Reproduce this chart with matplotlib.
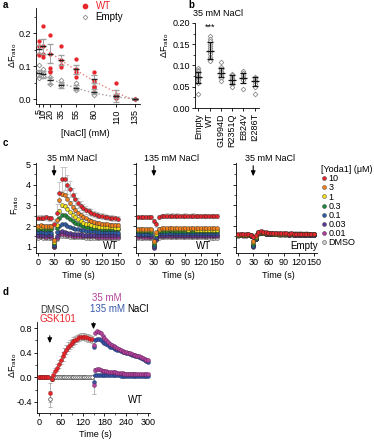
import matplotlib
matplotlib.use('Agg')
import matplotlib.pyplot as plt
from matplotlib.lines import Line2D
from matplotlib.ticker import MultipleLocator, FormatStrFormatter
import numpy as np

FS = 6.5
plt.rcParams['font.family'] = ['Liberation Sans', 'DejaVu Sans']
plt.rcParams['mathtext.fontset'] = 'custom'
plt.rcParams['mathtext.rm'] = 'Liberation Sans'
plt.rcParams['mathtext.it'] = 'Liberation Sans:italic'
plt.rcParams['font.size'] = FS
plt.rcParams['axes.linewidth'] = 0.6
for a in ('xtick', 'ytick'):
    plt.rcParams[a + '.major.width'] = 0.6
    plt.rcParams[a + '.minor.width'] = 0.5
    plt.rcParams[a + '.major.size'] = 2.5
    plt.rcParams[a + '.minor.size'] = 1.5
    plt.rcParams[a + '.major.pad'] = 1.2
    plt.rcParams[a + '.labelsize'] = FS

W, H = 374, 440

# ---------------- Panel a data ----------------
nacl_conc = [5, 10, 20, 35, 55, 80, 110, 135]
wt_points = [[0.177, 0.160, 0.138, 0.133], [0.222, 0.160, 0.138, 0.126],
             [0.193, 0.138, 0.095, 0.082], [0.162, 0.118, 0.103, 0.096],
             [0.121, 0.090, 0.081, 0.068], [0.083, 0.055, 0.037, 0.032],
             [0.050, 0.012, 0.008, 0.004], [0.0]]
empty_points = [[0.103, 0.083, 0.068, 0.063], [0.090, 0.078, 0.070],
                [0.085, 0.068, 0.045], [0.058, 0.045, 0.040],
                [0.048, 0.035, 0.027], [0.040, 0.022, 0.012],
                [0.012, 0.006, 0.002], [0.0]]
wt_mean = [0.153, 0.160, 0.138, 0.118, 0.090, 0.060, 0.010, 0.0]
wt_sem = [0.012, 0.022, 0.030, 0.015, 0.013, 0.012, 0.018, 0.0]
empty_mean = [0.078, 0.075, 0.057, 0.043, 0.035, 0.022, 0.008, 0.0]
empty_sem = [0.010, 0.010, 0.010, 0.008, 0.008, 0.008, 0.006, 0.0]

# ---------------- Panel b data ----------------
mutants = ['Empty', 'WT', 'G1994D', 'R2351Q', 'E824V', 'I2286T']
mut_points = [
    [0.095, 0.090, 0.086, 0.082, 0.079, 0.076, 0.073, 0.071, 0.069, 0.066, 0.062, 0.058, 0.032],
    [0.170, 0.162, 0.157, 0.151, 0.146, 0.141, 0.136, 0.131, 0.126, 0.121, 0.116, 0.112, 0.110],
    [0.109, 0.096, 0.091, 0.088, 0.085, 0.081, 0.078, 0.075, 0.070, 0.064],
    [0.081, 0.077, 0.073, 0.070, 0.068, 0.065, 0.061, 0.056, 0.050],
    [0.087, 0.082, 0.077, 0.072, 0.070, 0.068, 0.065, 0.045],
    [0.073, 0.070, 0.066, 0.063, 0.060, 0.056, 0.050, 0.034],
]
mut_mean = [0.072, 0.135, 0.083, 0.067, 0.070, 0.063]
mut_sd = [0.013, 0.020, 0.011, 0.010, 0.012, 0.011]

# ---------------- Panel c data ----------------
time_c = list(range(0, 151, 5))
yoda_labels = ['10', '3', '1', '0.3', '0.1', '0.03', '0.01', 'DMSO']
yoda_colors = ['#e8262c', '#f58220', '#f4e21c', '#1f8a3c', '#2e5ea8', '#5b3c9a', '#b43c9c', '#cfcfcf']

c1_series = [
    [2.40, 2.41, 2.40, 2.42, 2.39, 2.38, 2.10, 2.65, 3.60, 4.28, 4.30, 4.00, 3.78, 3.52, 3.30, 3.13, 2.98, 2.87, 2.78, 2.71, 2.65, 2.60, 2.55, 2.51, 2.48, 2.45, 2.43, 2.41, 2.39, 2.37, 2.36],
    [2.02, 2.03, 2.02, 2.01, 2.02, 2.00, 1.35, 2.30, 3.25, 3.55, 3.52, 3.32, 3.12, 2.93, 2.78, 2.64, 2.53, 2.44, 2.37, 2.31, 2.26, 2.21, 2.17, 2.14, 2.11, 2.09, 2.08, 2.07, 2.06, 2.05, 2.05],
    [1.95, 1.96, 1.95, 1.94, 1.95, 1.94, 1.25, 2.05, 2.75, 3.00, 2.98, 2.84, 2.68, 2.54, 2.42, 2.32, 2.24, 2.17, 2.12, 2.08, 2.05, 2.02, 2.00, 1.98, 1.97, 1.96, 1.95, 1.94, 1.94, 1.93, 1.93],
    [1.88, 1.89, 1.88, 1.87, 1.88, 1.87, 1.18, 1.92, 2.40, 2.55, 2.53, 2.44, 2.34, 2.25, 2.17, 2.10, 2.05, 2.01, 1.98, 1.95, 1.93, 1.91, 1.90, 1.89, 1.88, 1.87, 1.87, 1.86, 1.86, 1.85, 1.85],
    [1.70, 1.71, 1.70, 1.69, 1.70, 1.69, 1.10, 1.70, 2.00, 2.10, 2.08, 2.02, 1.97, 1.92, 1.88, 1.84, 1.81, 1.79, 1.77, 1.76, 1.75, 1.74, 1.73, 1.72, 1.72, 1.71, 1.71, 1.70, 1.70, 1.70, 1.69],
    [1.56, 1.57, 1.56, 1.55, 1.56, 1.55, 1.05, 1.50, 1.70, 1.74, 1.72, 1.69, 1.66, 1.64, 1.62, 1.61, 1.60, 1.59, 1.58, 1.58, 1.57, 1.57, 1.57, 1.56, 1.56, 1.56, 1.56, 1.55, 1.55, 1.55, 1.55],
    [1.50, 1.51, 1.50, 1.49, 1.50, 1.49, 1.00, 1.44, 1.60, 1.63, 1.61, 1.58, 1.56, 1.54, 1.53, 1.52, 1.51, 1.51, 1.50, 1.50, 1.50, 1.50, 1.49, 1.49, 1.49, 1.49, 1.49, 1.48, 1.48, 1.48, 1.48],
    [1.44, 1.45, 1.44, 1.43, 1.44, 1.43, 0.98, 1.38, 1.52, 1.54, 1.52, 1.50, 1.48, 1.47, 1.46, 1.45, 1.45, 1.45, 1.44, 1.44, 1.44, 1.44, 1.44, 1.43, 1.43, 1.43, 1.43, 1.43, 1.43, 1.42, 1.42],
]
c1_sem_10 = [0.12, 0.12, 0.12, 0.12, 0.12, 0.12, 0.25, 0.40, 0.55, 0.60, 0.55, 0.45, 0.38, 0.32, 0.28, 0.25, 0.22, 0.20, 0.18, 0.17, 0.16, 0.15, 0.15, 0.14, 0.14, 0.13, 0.13, 0.13, 0.13, 0.13, 0.13]
c_sem_other = [0.08, 0.07, 0.06, 0.05, 0.04, 0.04, 0.04]

c2_series = [
    [2.44, 2.45, 2.44, 2.45, 2.44, 2.43, 2.25, 2.08, 2.42, 2.50, 2.50, 2.51, 2.50, 2.51, 2.50, 2.51, 2.50, 2.50, 2.51, 2.50, 2.50, 2.51, 2.50, 2.50, 2.49, 2.50, 2.50, 2.49, 2.50, 2.49, 2.50],
    [1.86, 1.86, 1.85, 1.86, 1.85, 1.85, 1.30, 1.70, 1.88, 1.90, 1.90, 1.90, 1.91, 1.90, 1.90, 1.90, 1.90, 1.90, 1.90, 1.89, 1.90, 1.90, 1.89, 1.90, 1.89, 1.89, 1.90, 1.89, 1.89, 1.89, 1.89],
    [1.80, 1.81, 1.80, 1.80, 1.80, 1.79, 1.22, 1.64, 1.82, 1.84, 1.84, 1.84, 1.85, 1.84, 1.84, 1.84, 1.84, 1.84, 1.84, 1.83, 1.84, 1.84, 1.83, 1.83, 1.83, 1.83, 1.83, 1.83, 1.83, 1.83, 1.82],
    [1.74, 1.75, 1.74, 1.74, 1.74, 1.73, 1.15, 1.58, 1.76, 1.78, 1.78, 1.78, 1.79, 1.78, 1.78, 1.78, 1.78, 1.78, 1.77, 1.77, 1.78, 1.77, 1.77, 1.77, 1.77, 1.77, 1.77, 1.76, 1.76, 1.76, 1.76],
    [1.64, 1.65, 1.64, 1.64, 1.64, 1.63, 1.05, 1.48, 1.66, 1.68, 1.68, 1.68, 1.69, 1.68, 1.68, 1.68, 1.68, 1.68, 1.67, 1.67, 1.68, 1.67, 1.67, 1.67, 1.67, 1.67, 1.67, 1.66, 1.66, 1.66, 1.66],
    [1.55, 1.56, 1.55, 1.55, 1.55, 1.54, 0.95, 1.40, 1.57, 1.59, 1.59, 1.59, 1.60, 1.59, 1.59, 1.59, 1.59, 1.59, 1.58, 1.58, 1.59, 1.58, 1.58, 1.58, 1.58, 1.58, 1.58, 1.57, 1.57, 1.57, 1.57],
    [1.49, 1.50, 1.49, 1.49, 1.49, 1.48, 1.00, 1.36, 1.51, 1.53, 1.53, 1.53, 1.54, 1.53, 1.53, 1.53, 1.53, 1.53, 1.52, 1.52, 1.53, 1.52, 1.52, 1.52, 1.52, 1.52, 1.52, 1.51, 1.51, 1.51, 1.51],
    [1.42, 1.43, 1.42, 1.42, 1.42, 1.41, 1.08, 1.32, 1.44, 1.46, 1.46, 1.46, 1.47, 1.46, 1.46, 1.46, 1.46, 1.46, 1.45, 1.45, 1.46, 1.45, 1.45, 1.45, 1.45, 1.45, 1.45, 1.44, 1.44, 1.44, 1.44],
]

c3_series = [
    [1.60, 1.61, 1.60, 1.60, 1.61, 1.58, 1.45, 1.55, 1.72, 1.74, 1.72, 1.70, 1.68, 1.67, 1.66, 1.66, 1.65, 1.65, 1.65, 1.65, 1.64, 1.65, 1.64, 1.64, 1.64, 1.64, 1.63, 1.64, 1.63, 1.63, 1.63],
    [1.59, 1.60, 1.59, 1.59, 1.60, 1.57, 1.30, 1.50, 1.70, 1.72, 1.70, 1.68, 1.67, 1.66, 1.65, 1.65, 1.64, 1.64, 1.64, 1.64, 1.63, 1.64, 1.63, 1.63, 1.63, 1.63, 1.62, 1.63, 1.62, 1.62, 1.62],
    [1.58, 1.59, 1.58, 1.58, 1.59, 1.56, 1.24, 1.47, 1.68, 1.70, 1.69, 1.67, 1.66, 1.65, 1.64, 1.64, 1.63, 1.63, 1.63, 1.63, 1.62, 1.63, 1.62, 1.62, 1.62, 1.62, 1.61, 1.62, 1.61, 1.61, 1.61],
    [1.57, 1.58, 1.57, 1.57, 1.58, 1.55, 1.15, 1.44, 1.67, 1.69, 1.68, 1.66, 1.65, 1.64, 1.63, 1.63, 1.62, 1.62, 1.62, 1.62, 1.61, 1.62, 1.61, 1.61, 1.61, 1.61, 1.60, 1.61, 1.60, 1.60, 1.60],
    [1.56, 1.57, 1.56, 1.56, 1.57, 1.54, 1.05, 1.40, 1.66, 1.68, 1.67, 1.65, 1.64, 1.63, 1.62, 1.62, 1.61, 1.61, 1.61, 1.61, 1.60, 1.61, 1.60, 1.60, 1.60, 1.60, 1.59, 1.60, 1.59, 1.59, 1.59],
    [1.55, 1.56, 1.55, 1.55, 1.56, 1.53, 0.98, 1.37, 1.65, 1.67, 1.66, 1.64, 1.63, 1.62, 1.61, 1.61, 1.60, 1.60, 1.60, 1.60, 1.59, 1.60, 1.59, 1.59, 1.59, 1.59, 1.58, 1.59, 1.58, 1.58, 1.58],
    [1.55, 1.56, 1.55, 1.55, 1.56, 1.53, 1.02, 1.38, 1.65, 1.67, 1.66, 1.64, 1.63, 1.62, 1.61, 1.61, 1.60, 1.60, 1.60, 1.60, 1.59, 1.60, 1.59, 1.59, 1.59, 1.59, 1.58, 1.59, 1.58, 1.58, 1.58],
    [1.54, 1.55, 1.54, 1.54, 1.55, 1.52, 1.10, 1.40, 1.64, 1.66, 1.65, 1.63, 1.62, 1.61, 1.60, 1.60, 1.59, 1.59, 1.59, 1.59, 1.58, 1.59, 1.58, 1.58, 1.58, 1.58, 1.57, 1.58, 1.57, 1.57, 1.57],
]

# ---------------- Panel d data ----------------
time_d_pre = list(range(0, 150, 5))
time_d_post = list(range(150, 301, 5))
gsk_pre = [0.00, 0.01, 0.00, 0.01, 0.00, 0.00, -0.25, -0.02, 0.04, 0.10, 0.16, 0.22, 0.28, 0.34, 0.40, 0.45, 0.50, 0.53, 0.56, 0.59, 0.61, 0.63, 0.65, 0.66, 0.66, 0.66, 0.65, 0.64, 0.63, 0.62]
gsk_pre_sem = [0.02, 0.02, 0.02, 0.02, 0.02, 0.02, 0.15, 0.04, 0.05, 0.06, 0.06, 0.06, 0.07, 0.07, 0.07, 0.07, 0.07, 0.07, 0.07, 0.07, 0.06, 0.06, 0.06, 0.06, 0.06, 0.06, 0.06, 0.06, 0.06, 0.06]
gsk_35 = [0.52, 0.72, 0.75, 0.74, 0.72, 0.68, 0.64, 0.61, 0.58, 0.55, 0.53, 0.51, 0.49, 0.47, 0.46, 0.44, 0.43, 0.42, 0.41, 0.40, 0.39, 0.38, 0.37, 0.36, 0.35, 0.34, 0.33, 0.31, 0.30, 0.29, 0.28]
gsk_135 = [0.50, 0.60, 0.62, 0.62, 0.60, 0.58, 0.56, 0.54, 0.52, 0.50, 0.49, 0.47, 0.46, 0.45, 0.44, 0.43, 0.42, 0.41, 0.40, 0.39, 0.38, 0.37, 0.36, 0.35, 0.34, 0.33, 0.31, 0.30, 0.28, 0.27, 0.25]
dmso_pre = [0.00, 0.00, 0.01, 0.00, 0.00, 0.00, -0.35, -0.03, 0.00, 0.01, 0.00, 0.01, 0.00, 0.01, 0.00, 0.00, 0.01, 0.00, 0.00, 0.01, 0.00, 0.00, 0.01, 0.00, 0.00, 0.01, 0.00, 0.00, 0.00, 0.00]
dmso_pre_sem = [0.02, 0.02, 0.02, 0.02, 0.02, 0.02, 0.13, 0.03, 0.02, 0.02, 0.02, 0.02, 0.02, 0.02, 0.02, 0.02, 0.02, 0.02, 0.02, 0.02, 0.02, 0.02, 0.02, 0.02, 0.02, 0.02, 0.02, 0.02, 0.02, 0.02]
dmso_35 = [-0.12, 0.12, 0.14, 0.13, 0.12, 0.11, 0.10, 0.10, 0.09, 0.09, 0.08, 0.08, 0.08, 0.07, 0.07, 0.07, 0.07, 0.06, 0.06, 0.06, 0.06, 0.06, 0.06, 0.05, 0.05, 0.05, 0.05, 0.05, 0.05, 0.05, 0.05]
dmso_135 = [-0.08, 0.03, 0.04, 0.04, 0.04, 0.03, 0.03, 0.03, 0.03, 0.03, 0.03, 0.03, 0.03, 0.03, 0.03, 0.02, 0.02, 0.02, 0.02, 0.02, 0.02, 0.02, 0.02, 0.02, 0.02, 0.02, 0.02, 0.02, 0.02, 0.02, 0.02]
dmso_post_sem = [0.15, 0.03, 0.02, 0.02, 0.02, 0.02, 0.02, 0.02, 0.02, 0.02, 0.02, 0.02, 0.02, 0.02, 0.02, 0.02, 0.02, 0.02, 0.02, 0.02, 0.02, 0.02, 0.02, 0.02, 0.02, 0.02, 0.02, 0.02, 0.02, 0.02, 0.02]

RED = '#e8262c'
MAG = '#b4449e'
BLU = '#3556a8'
GRAY = '#9a9a9a'

fig = plt.figure(figsize=(W / 100, H / 100), dpi=100)


def rect(l, t, r, b):
    return [l / W, 1 - b / H, (r - l) / W, (b - t) / H]


def ft(x, y, s, **kw):
    kw.setdefault('va', 'center')
    return fig.text(x / W, 1 - y / H, s, **kw)


def clean(ax):
    ax.spines['top'].set_visible(False)
    ax.spines['right'].set_visible(False)


dF = r'$\Delta$F$_{\rm ratio}$'
ARW = dict(arrowstyle='-|>,head_length=0.45,head_width=0.2', color='k', lw=0.8)

# ---------------- Panel a ----------------
ax = fig.add_axes(rect(36, 8, 140, 104))
clean(ax)
for c, pts in zip(nacl_conc, empty_points):
    ax.plot([c] * len(pts), pts, ls='none', marker='D', ms=2.4, mfc='white', mec='#8a8a8a', mew=0.6, zorder=2)
for c, pts in zip(nacl_conc, wt_points):
    ax.plot([c] * len(pts), pts, ls='none', marker='o', ms=3.1, mfc=RED, mec=RED, mew=0, zorder=3)
ax.errorbar(nacl_conc, empty_mean, yerr=empty_sem, fmt='_', color='#222', ms=4, mew=1.0,
            ecolor='#a0a0a0', elinewidth=0.7, capsize=2.5, capthick=0.7, zorder=4)
ax.errorbar(nacl_conc, wt_mean, yerr=wt_sem, fmt='_', color='#222', ms=4, mew=1.0,
            ecolor='#a0a0a0', elinewidth=0.7, capsize=2.5, capthick=0.7, zorder=4)
xs = np.array(nacl_conc, dtype=float)
p_wt = np.polyfit(xs[1:], np.array(wt_mean)[1:], 2)
p_em = np.polyfit(xs, np.array(empty_mean), 2)
xf = np.linspace(15, 135, 60)
ax.plot(xf, np.polyval(p_wt, xf), ls=':', color='#f08080', lw=1.0, zorder=1)
xf2 = np.linspace(10, 135, 60)
ax.plot(xf2, np.polyval(p_em, xf2), ls=':', color='#a0a0a0', lw=1.0, zorder=1)
ax.set_xlim(1, 142)
ax.set_ylim(-0.015, 0.276)
ax.set_xticks(nacl_conc)
ax.set_xticklabels([str(c) for c in nacl_conc], rotation=90)
ax.set_yticks([0.0, 0.1, 0.2])
ax.yaxis.set_major_formatter(FormatStrFormatter('%.1f'))
ax.yaxis.set_minor_locator(MultipleLocator(0.05))
ft(85, 133, '[NaCl] (mM)', ha='center')
ft(13, 55, dF, ha='center', rotation=90)
h1 = Line2D([], [], ls='none', marker='o', ms=3.1, mfc=RED, mec=RED)
h2 = Line2D([], [], ls='none', marker='D', ms=2.4, mfc='white', mec='#8a8a8a', mew=0.6)
leg = ax.legend([h1, h2], ['WT', 'Empty'], loc='upper left', bbox_to_anchor=(80 / W, 1 - 1 / H),
                bbox_transform=fig.transFigure, frameon=False, fontsize=7,
                handlelength=1.0, handletextpad=0.6, labelspacing=0.15, borderpad=0, borderaxespad=0)
leg.get_texts()[0].set_color(RED)

# ---------------- Panel b ----------------
ax = fig.add_axes(rect(195, 23, 259, 108))
clean(ax)
for i, pts in enumerate(mut_points):
    ax.plot([i] * len(pts), pts, ls='none', marker='D', ms=2.4, mfc='white', mec='#8a8a8a', mew=0.6, zorder=2)
ax.errorbar(range(len(mutants)), mut_mean, yerr=mut_sd, fmt='_', color='#111', ms=6, mew=0.9,
            ecolor='#111', elinewidth=0.7, capsize=2.5, capthick=0.7, zorder=3)
ax.text(1, 0.19, '***', ha='center', va='center', fontsize=FS)
ax.set_xlim(-0.3, 5.4)
ax.set_ylim(0, 0.2)
ax.set_xticks(range(len(mutants)))
ax.set_xticklabels(mutants, rotation=90)
ax.set_yticks([0, 0.05, 0.10, 0.15, 0.20])
ax.yaxis.set_major_formatter(FormatStrFormatter('%.2f'))
ax.yaxis.set_minor_locator(MultipleLocator(0.025))
ft(218, 13, '35 mM NaCl', ha='center')
ft(165, 45, dF, ha='center', rotation=90)

# ---------------- Panel c ----------------
c_rects = [rect(36, 163, 121, 253), rect(136, 163, 220, 253), rect(236, 163, 317, 253)]
c_data = [c1_series, c2_series, c3_series]
c_titles = [('35 mM NaCl', 72), ('135 mM NaCl', 172), ('35 mM NaCl', 270)]
c_tags = [('WT', 118), ('WT', 211), ('Empty', 318)]
time_lbl_x = [78, 178, 278]
for k in range(3):
    ax = fig.add_axes(c_rects[k])
    clean(ax)
    series = c_data[k]
    for j in range(len(series) - 1, -1, -1):
        if k == 0 and j == 0:
            err = c1_sem_10
        elif j == 0:
            err = 0.1
        else:
            err = c_sem_other[j - 1]
        ax.errorbar(time_c, series[j], yerr=err, fmt='none', ecolor='#b5b5b5',
                    elinewidth=0.5, capsize=1.2, capthick=0.5, zorder=1)
        ax.plot(time_c, series[j], ls='none', marker='o', ms=2.8, mfc=yoda_colors[j],
                mec='#222222', mew=0.3, zorder=2 + (8 - j))
    ax.set_xlim(-4, 156)
    ax.set_ylim(0.7, 5.05)
    ax.set_xticks([0, 30, 60, 90, 120, 150])
    ax.set_yticks([1, 2, 3, 4, 5])
    ax.yaxis.set_minor_locator(MultipleLocator(0.5))
    if k > 0:
        ax.set_yticklabels([])
    ax.annotate('', xy=(30, 1 - 179 / H), xytext=(30, 1 - 163 / H),
                xycoords=('data', 'figure fraction'), textcoords=('data', 'figure fraction'),
                arrowprops=ARW, annotation_clip=False)
    ft(c_titles[k][1], 158, c_titles[k][0], ha='center')
    ft(c_tags[k][1], 246, c_tags[k][0], ha='right', fontsize=7)
    ft(time_lbl_x[k], 275, 'Time (s)', ha='center')
ft(15, 205, r'F$_{\rm ratio}$', ha='center', rotation=90)

handles = [Line2D([], [], ls='none', marker='o', ms=2.8, mfc=c, mec='#222222', mew=0.3) for c in yoda_colors]
fig.legend(handles, yoda_labels, title='[Yoda1] (μM)', loc='upper left',
           bbox_to_anchor=(321 / W, 1 - 165 / H), frameon=False, fontsize=FS, title_fontsize=FS,
           handlelength=0.6, handletextpad=0.2, labelspacing=0.02, borderpad=0, borderaxespad=0,
           alignment='left')

# ---------------- Panel d ----------------
ax = fig.add_axes(rect(37, 322, 150, 413))
clean(ax)
ax.errorbar(time_d_pre, gsk_pre, yerr=gsk_pre_sem, fmt='none', ecolor=GRAY, elinewidth=0.5,
            capsize=1.2, capthick=0.5, zorder=1)
ax.errorbar(time_d_pre, dmso_pre, yerr=dmso_pre_sem, fmt='none', ecolor=GRAY, elinewidth=0.5,
            capsize=1.2, capthick=0.5, zorder=1)
ax.errorbar(time_d_post, dmso_35, yerr=dmso_post_sem, fmt='none', ecolor=GRAY, elinewidth=0.5,
            capsize=1.2, capthick=0.5, zorder=1)
ax.plot(time_d_pre, dmso_pre, ls='none', marker='o', ms=2.6, mfc='white', mec='#444', mew=0.5, zorder=2)
ax.plot(time_d_pre, gsk_pre, ls='none', marker='o', ms=2.8, mfc=RED, mec='#8a1010', mew=0.3, zorder=3)
ax.plot(time_d_post, gsk_135, ls='none', marker='o', ms=2.8, mfc=BLU, mec='#1a2a60', mew=0.3, zorder=3)
ax.plot(time_d_post, gsk_35, ls='none', marker='o', ms=2.8, mfc=MAG, mec='#5a1a50', mew=0.3, zorder=4)
ax.plot(time_d_post, dmso_135, ls='none', marker='o', ms=2.8, mfc=BLU, mec='#1a2a60', mew=0.3, zorder=3)
ax.plot(time_d_post, dmso_35, ls='none', marker='o', ms=2.8, mfc=MAG, mec='#5a1a50', mew=0.3, zorder=4)
ax.set_xlim(-5, 305)
ax.set_ylim(-0.58, 0.9)
ax.set_xticks([0, 60, 120, 180, 240, 300])
ax.xaxis.set_minor_locator(MultipleLocator(30))
ax.set_yticks([-0.4, 0.0, 0.4, 0.8])
ax.yaxis.set_major_formatter(FormatStrFormatter('%.1f'))
ax.yaxis.set_minor_locator(MultipleLocator(0.2))
for tt, y0, y1 in [(30, 333, 346), (150, 320, 332)]:
    ax.annotate('', xy=(tt, 1 - y1 / H), xytext=(tt, 1 - y0 / H),
                xycoords=('data', 'figure fraction'), textcoords=('data', 'figure fraction'),
                arrowprops=ARW, annotation_clip=False)
ft(40, 310, 'DMSO', ha='left', color='#333333', fontsize=7)
ft(40, 319, 'GSK101', ha='left', color=RED, fontsize=7)
ft(92, 298, '35 mM', ha='left', color=MAG, fontsize=7)
t135 = ft(90, 309, '135 mM', ha='left', color=BLU, fontsize=7)
fig.canvas.draw()
bb = t135.get_window_extent(fig.canvas.get_renderer())
fig.text((bb.x1 + 2) / W, 1 - 309 / H, 'NaCl', ha='left', va='center', color='k', fontsize=7)
ft(143, 400, 'WT', ha='right', fontsize=7)
ft(95, 434, 'Time (s)', ha='center')
ft(13, 365, dF, ha='center', rotation=90)

# panel letters
for lt, x, y in [('a', 3, 5), ('b', 188, 5), ('c', 3, 143), ('d', 3, 292)]:
    ft(x, y, lt, ha='left', fontweight='bold', fontsize=7)

fig.savefig('out.png', dpi=100)
